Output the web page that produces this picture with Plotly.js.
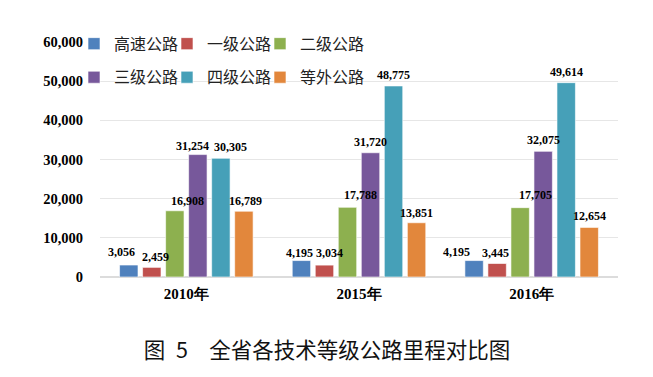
<!DOCTYPE html>
<html><head><meta charset="utf-8">
<script src="https://cdn.plot.ly/plotly-3.0.1.min.js"></script>
<style>html,body{margin:0;padding:0;background:#fff}#chart{width:653px;height:377px}</style>
</head><body><div id="chart"></div>
<script>
var years = ['2010年', '2015年', '2016年'];
var seriesNames = ['高速公路', '一级公路', '二级公路', '三级公路', '四级公路', '等外公路'];
var highway = [3056, 4195, 4195];
var class1 = [2459, 3034, 3445];
var class2 = [16908, 17788, 17705];
var class3 = [31254, 31720, 32075];
var class4 = [30305, 48775, 49614];
var substandard = [16789, 13851, 12654];
var yTicks = [0, 10000, 20000, 30000, 40000, 50000, 60000];
var yTickText = ['0', '10,000', '20,000', '30,000', '40,000', '50,000', '60,000'];

// label placement nudges (pixels) as in the reference: horizontal shift and gap above bar
var labelDx = [[-7.5, -2, -17.5], [3.5, 5, -2], [12.5, 13, 15], [-5, 0, 0], [10, 0, 0], [1.5, 0, 0]];
var labelGap = [[13, 8, 9], [10, 12, 11], [10, 12, 13], [9, 11, 11], [11, 11, 11], [10, 10, 11]];

var colors = ['#4f81bd', '#c0504d', '#8db04f', '#77589b', '#46a0b8', '#e2873c'];
var values = [highway, class1, class2, class3, class4, substandard];
var serif = 'Liberation Serif, Times New Roman, serif';
var cjk = 'Noto Sans CJK SC, sans-serif';

var margin = {l: 100, r: 35, t: 42, b: 100};
var W = 653, H = 377, bargap = 0.2, bargroupgap = 0.2;
var plotW = W - margin.l - margin.r;
var slotPx = plotW / years.length * (1 - bargap) / values.length;

var traces = values.map(function (v, i) {
  return {
    type: 'bar', x: years, y: v, name: seriesNames[i],
    legend: i < 3 ? 'legend' : 'legend2',
    marker: {color: colors[i], line: {color: 'rgba(255,255,255,0.6)', width: 1}}
  };
});
// transparent legend-only spacer entries so the last legend label in each row is not clipped
['legend', 'legend2'].forEach(function (lg) {
  traces.push({type: 'scatter', mode: 'markers', x: years, y: highway, name: ' ', legend: lg,
    visible: 'legendonly', marker: {color: 'rgba(0,0,0,0)', size: 1}, hoverinfo: 'skip'});
});

var annotations = [];
values.forEach(function (v, i) {
  v.forEach(function (val, j) {
    annotations.push({
      x: years[j], y: val, xref: 'x', yref: 'y',
      text: val.toLocaleString('en-US'), showarrow: false,
      xanchor: 'center', yanchor: 'middle',
      xshift: (i - (values.length - 1) / 2) * slotPx + labelDx[i][j],
      yshift: labelGap[i][j],
      font: {family: serif, size: 12, color: '#000', weight: 'bold'}
    });
  });
});

// legend box: 4 entries (incl. spacer) of 88px + 5px gaps = 372px, left edge at 74px
var legendRight = (74 + 372 - margin.l) / plotW;
var legendBase = {
  orientation: 'h', xanchor: 'right', yanchor: 'top', x: legendRight,
  entrywidth: 48, entrywidthmode: 'pixels', traceorder: 'normal',
  font: {family: cjk, size: 16, color: '#222'}, bgcolor: 'rgba(0,0,0,0)',
  tracegroupgap: 0
};

var layout = {
  width: W, height: H, margin: margin,
  paper_bgcolor: '#fff', plot_bgcolor: '#fff',
  barmode: 'group', bargap: bargap, bargroupgap: bargroupgap,
  showlegend: true,
  legend: Object.assign({}, legendBase, {y: 1.065}),
  legend2: Object.assign({}, legendBase, {y: 0.922}),
  annotations: annotations,
  xaxis: {
    showline: false, showgrid: false, zeroline: false, ticks: '',
    tickfont: {family: serif, size: 15, color: '#000', weight: 'bold'},
    ticklabelstandoff: 6
  },
  yaxis: {
    range: [0, 60000], tickvals: yTicks, ticktext: yTickText,
    showgrid: true, gridcolor: '#e6e6e6', gridwidth: 1.3,
    zeroline: true, zerolinecolor: '#dcdcdc', zerolinewidth: 1.3,
    showline: false, ticks: '',
    tickfont: {family: serif, size: 14.5, color: '#000', weight: 'bold'},
    ticklabelstandoff: 16
  },
  title: {
    text: '图\u20025\u3000全省各技术等级公路里程对比图',
    font: {family: cjk, size: 21.5, color: '#111'},
    x: 327 / 653, xanchor: 'center', xref: 'container',
    y: 1 - 350 / 377, yanchor: 'middle', yref: 'container'
  }
};

Plotly.newPlot('chart', traces, layout, {displayModeBar: false, staticPlot: true});
</script></body></html>
